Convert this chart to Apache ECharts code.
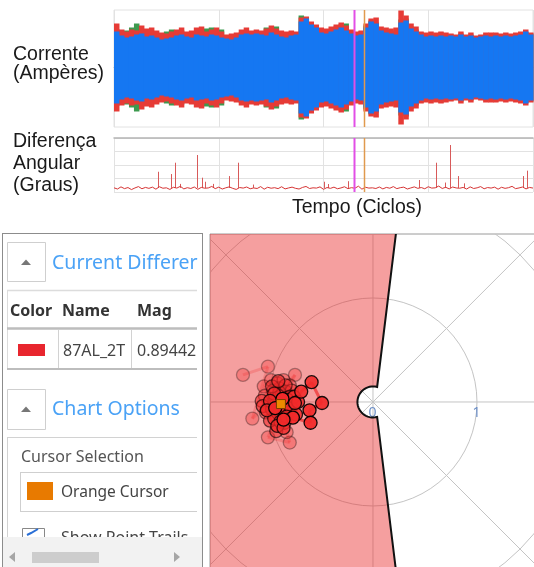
<!DOCTYPE html>
<html><head><meta charset="utf-8">
<script src="https://cdn.jsdelivr.net/npm/echarts@6.0.0/dist/echarts.min.js"></script>
<style>html,body{margin:0;padding:0;background:#fff}#c{width:534px;height:567px}</style>
</head><body><div id="c"></div>
<script>
// ---------- DATA ----------
// Current waveform envelope (amplitude per time column), one array per phase
const blueAmp = [36,32,30,31,33,34,31,32,30,28, 29,30,32,33,31,30,33,32,31,33, 32,30,29,28,30,33,34,33,34,33, 32,35,33,31,30,32,33,46,49,43, 40,35,34,36,38,40,37,34,32,33, 40,46,44,37,35,34,33,45,47,39, 36,33,31,32,31,32,31,32,31,33, 31,32,30,31,32,31,32,31,32,31, 32,33,36,33];
const redAmp = [44,38,36,38,37,42,39,40,37,35, 34,36,38,40,36,37,40,41,36,38, 40,36,33,34,35,38,40,37,38,37, 39,42,39,37,36,37,36,50,51,46, 43,40,39,41,43,45,42,38,36,37, 44,49,50,41,40,39,40,57,52,44, 41,36,35,36,35,36,35,34,33,36, 33,35,32,33,35,35,35,34,35,34, 35,36,38,35];
const greenAmp = [38,35,37,40,44,38,36,35,34,33, 36,38,34,37,34,33,36,37,39,40, 37,38,32,31,32,35,36,35,36,35, 40,38,41,35,34,34,35,52,47,45, 41,38,37,38,41,43,44,36,35,36, 42,47,45,39,38,36,37,48,49,41, 38,35,33,34,33,35,33,33,32,34, 32,33,31,32,33,33,34,30,33,32, 33,34,35,34];
// Time cursors (cycles)
const cursorPos = [2.29, 2.385];
const cursorNames = ['Magenta Cursor', 'Orange Cursor'];
// Angular difference: baseline noise + spikes
const angleNoise = [3.1,2.2,3.8,2.5,3.3,1.8,3.0,4.0,2.4,3.4, 2.7,3.6,2.1,3.9,2.8,3.1,1.9,3.5,2.9,4.2, 2.3,3.2,2.6,3.7,2.0,3.4,2.8,3.0,4.1,2.5, 3.6,2.2,3.1,3.8,2.7,1.9,3.3,2.9,3.7,2.4, 3.0,2.6,4.0,2.1,3.5,2.8,3.2,2.5,3.9,2.3, 3.0,3.6,2.7,2.2,3.4,4.1,2.6,3.1,2.9,3.8, 2.0,3.3,2.7,3.6,2.4,3.0,3.9,2.5,3.2,2.8, 4.3,2.1,3.5,2.9,3.1,2.6,3.7,2.3,3.4,2.8, 4.0,2.5,3.2,3.6,2.2,3.0,3.8,2.7,3.3,2.4, 3.9,2.9,3.1,4.4,2.6,3.5,2.3,3.7,3.0,2.8, 3.4,2.2,3.8,2.6,3.1,4.0,2.4,3.3,2.9,3.6, 2.1,3.5,2.7,3.2,4.2,2.5,3.0,3.7,2.3,3.4, 2.9];
const spikeX = [0.423,0.541,0.582,0.630,0.795,0.840,0.869,0.945,1.095,1.187,1.327,2.002,2.043,2.234,2.915,3.071,3.160,3.208,3.281,3.341,3.907,3.946];
const spikeVal = [15.0,13.3,21.7,6.0,27.4,10.6,7.6,6.0,11.8,21.7,5.5,7.6,5.9,8.0,8.9,21.7,7.0,34.8,11.8,6.4,11.8,15.8];
const spikeBase = 3;
// Phasor plane
const ringRadii = [1, 2, 3];
const spokeAngles = [0, 45, 90, 135];
const ringLabels = [0, 1];
const charSlopeTop = [[0.04, 0.144], [0.243, 1.80]];
const trailX = [-1.25,-1.01,-1.16,-0.75,-1.01,-0.80,-0.83,-1.05,-0.98,-0.92,-0.86,-1.04,-0.80,-0.96,-0.90,-1.00,-0.84,-0.94,-1.03,-0.88,-0.78,
  -0.93,-0.87,-0.81,-0.90,-0.97,-0.84,-1.07,-0.93,-0.88,-0.80,-0.99,-0.91,-0.85,-1.06,-0.95,
  -0.97,-0.91,-0.95,-0.82,-0.89,-0.85,-0.92,-0.86,-0.79,-0.83,-0.76,-0.99,-1.02,-0.74,-0.72,-0.75,-0.69,-0.59,-0.49,-0.61,-0.60,-0.77,-0.86,-0.94,-0.87];
const trailY = [0.26,0.34,-0.16,0.26,-0.34,-0.39,-0.29,0.15,0.21,0.18,0.21,0.06,0.16,0.11,0.13,-0.03,0.10,0.04,-0.10,0.06,0.11,
  -0.02,-0.04,-0.10,0.09,0.15,0.16,0.01,-0.28,-0.12,0.05,-0.18,0.20,-0.20,-0.04,0.08,
  -0.07,-0.11,-0.16,0.02,-0.19,-0.08,-0.23,-0.25,-0.05,-0.14,0.05,0.01,-0.08,-0.12,0.00,-0.01,0.10,0.19,-0.01,-0.08,-0.20,-0.15,-0.17,-0.06,0.03];
const cursorPoint = [-0.885, -0.02];
// Side panel content
const tableHeaders = ['Color', 'Name', 'Mag'];
const tableRow = {name: '87AL_2T', mag: '0.89442'};

// ---------- CHART ----------
const chart = echarts.init(document.getElementById('c'));
const cursorColors = ['#e24fe6', '#e09a4e'];
const cursorWidths = [2, 1.5];
const colW = 4 / blueAmp.length;

function bandSeries(amps, color) {
  return {
    type: 'custom', xAxisIndex: 0, yAxisIndex: 0, silent: true, animation: false, z: 2,
    data: amps.map((a, i) => [(i + 0.5) * colW, a]),
    renderItem: (params, api) => {
      const x = api.value(0), a = api.value(1);
      const p1 = api.coord([x - colW / 2, a]);
      const p2 = api.coord([x + colW / 2, -a]);
      return {type: 'rect', shape: {x: p1[0], y: p1[1], width: p2[0] - p1[0] + 0.5, height: p2[1] - p1[1]}, style: {fill: color}};
    }
  };
}
function cursorSeries(k) {
  return {
    type: 'custom', xAxisIndex: k, yAxisIndex: k, silent: true, animation: false, z: 6,
    data: cursorPos.map((p, i) => [p, i]),
    renderItem: (params, api) => {
      const cs = params.coordSys;
      const i = api.value(1);
      const x = Math.round(api.coord([api.value(0), 0])[0]) + 0.5;
      return {type: 'line', shape: {x1: x, y1: cs.y, x2: x, y2: cs.y + cs.height}, style: {stroke: cursorColors[i], lineWidth: cursorWidths[i]}};
    }
  };
}
const nT = trailX.length;
const op = i => 0.3 + 0.7 * Math.pow(i / (nT - 1), 1.3);

function charPolygonPoints() {
  const [a, b] = charSlopeTop;
  const r = Math.hypot(a[0], a[1]);
  const a0 = Math.atan2(a[1], a[0]);
  const pts = [[b[0], b[1]], [a[0], a[1]]];
  const steps = 30;
  for (let s = 1; s < steps; s++) {
    const t = a0 + (2 * Math.PI - 2 * a0) * s / steps;
    pts.push([r * Math.cos(t), r * Math.sin(t)]);
  }
  pts.push([a[0], -a[1]], [b[0], -b[1]]);
  return pts;
}

const G = [];
const txt = (x, y, text, font, fill, align, z) => G.push({type: 'text', x, y, z: z || 50, silent: true,
  style: {text, font, fill, align: align || 'left', verticalAlign: 'middle', textAlign: align || 'left', textVerticalAlign: 'middle'}});
const rect = (x, y, w, h, style, z) => G.push({type: 'rect', shape: {x, y, width: w, height: h}, style, z: z || 40, silent: true});
const line = (x1, y1, x2, y2, stroke, lw, z) => G.push({type: 'line', shape: {x1, y1, x2, y2}, style: {stroke, lineWidth: lw || 1}, z: z || 41, silent: true});

const LF = '19.5px "Liberation Sans", Arial, sans-serif';
txt(13, 54.5, 'Corrente', LF, '#1a1a1a');
txt(13, 73.5, '(Ampères)', LF, '#1a1a1a');
txt(13, 141.5, 'Diferença', LF, '#1a1a1a');
txt(13, 163.5, 'Angular', LF, '#1a1a1a');
txt(13, 185.5, '(Graus)', LF, '#1a1a1a');
txt(357, 208, 'Tempo (Ciclos)', LF, '#1a1a1a', 'center');

// side panel
const PF = '"Noto Sans", "Open Sans", sans-serif';
rect(2.5, 233.5, 200, 340, {fill: '#fff', stroke: '#8c8c8c', lineWidth: 1}, 30);
rect(7.5, 242.5, 38, 39, {fill: '#fff', stroke: '#cfcfcf', lineWidth: 1});
G.push({type: 'polygon', shape: {points: [[21, 265], [31, 265], [26, 259.5]]}, style: {fill: '#777'}, z: 42, silent: true});
txt(52, 263, 'Current Differer', '19.5px ' + PF, '#4aa2f6');
line(7, 290.5, 197, 290.5, '#dcdcdc', 1.5);
line(7.5, 290, 7.5, 370, '#dcdcdc', 1);
txt(10, 311, tableHeaders[0], 'bold 16px ' + PF, '#333');
txt(62, 311, tableHeaders[1], 'bold 16px ' + PF, '#333');
txt(137, 311, tableHeaders[2], 'bold 16px ' + PF, '#333');
line(7, 328.5, 197, 328.5, '#bdbdbd', 2.5);
line(58.5, 330, 58.5, 368, '#d2d2d2', 1);
line(131.5, 330, 131.5, 368, '#d2d2d2', 1);
line(7, 369, 197, 369, '#bdbdbd', 2);
rect(18, 344, 27, 12, {fill: '#e8262e'});
txt(63, 351, tableRow.name, '16px ' + PF, '#444');
txt(137, 351, tableRow.mag, '16px ' + PF, '#444');
rect(7.5, 389.5, 38, 40, {fill: '#fff', stroke: '#cfcfcf', lineWidth: 1});
G.push({type: 'polygon', shape: {points: [[21, 412], [31, 412], [26, 406.5]]}, style: {fill: '#777'}, z: 42, silent: true});
txt(52, 409, 'Chart Options', '19.5px ' + PF, '#4aa2f6');
line(7, 437.5, 197, 437.5, '#d2d2d2', 1);
line(7.5, 437, 7.5, 567, '#d2d2d2', 1);
txt(21, 457, 'Cursor Selection', '16px ' + PF, '#555');
line(20, 472.5, 197, 472.5, '#cfcfcf', 1);
line(20.5, 472, 20.5, 512, '#cfcfcf', 1);
line(20, 511.5, 197, 511.5, '#cfcfcf', 1);
rect(27, 482, 26, 18, {fill: '#e87a00'});
txt(61, 492.5, cursorNames[1], '15.5px ' + PF, '#444');
rect(22.5, 528.5, 22, 22, {fill: '#fff', stroke: '#888', lineWidth: 1});
G.push({type: 'polyline', shape: {points: [[27, 535], [31, 533], [38, 529]]}, style: {stroke: '#2a6fd6', lineWidth: 2, fill: 'none'}, z: 42, silent: true});
txt(61, 538.5, 'Show Point Trails', '16px ' + PF, '#444', 'left', 42);
rect(3, 537, 199, 30, {fill: '#f2f2f2'}, 45);
G.push({type: 'polygon', shape: {points: [[9, 557], [15, 552], [15, 562]]}, style: {fill: '#a6a6a6'}, z: 46, silent: true});
G.push({type: 'polygon', shape: {points: [[180, 557], [174, 552], [174, 562]]}, style: {fill: '#a6a6a6'}, z: 46, silent: true});
rect(32, 552, 67, 11, {fill: '#cdcdcd'}, 46);
line(2.5, 233, 2.5, 567, '#8c8c8c', 1, 47);
line(202.5, 233, 202.5, 567, '#8c8c8c', 1, 47);

const option = {
  animation: false,
  backgroundColor: '#fff',
  graphic: {elements: G},
  grid: [
    {left: 114, top: 10, width: 419, height: 117, show: true, borderColor: '#e2e2e2', borderWidth: 1, outerBoundsMode: 'none'},
    {left: 114, top: 138, width: 419, height: 54, outerBoundsMode: 'none'},
    {left: 210, top: 234, width: 330, height: 340, show: true, borderColor: '#9a9a9a', borderWidth: 1, backgroundColor: '#fff', outerBoundsMode: 'none'}
  ],
  xAxis: [
    {gridIndex: 0, type: 'value', min: 0, max: 4, interval: 1, axisLine: {show: true, lineStyle: {color: '#b4b4b4'}}, axisTick: {show: false}, axisLabel: {show: false}, splitLine: {show: true, lineStyle: {color: '#e2e2e2'}}},
    {gridIndex: 1, type: 'value', min: 0, max: 4, interval: 1, position: 'top', axisLine: {show: true, onZero: false, lineStyle: {color: '#b4b4b4', width: 1.5}}, axisTick: {show: false}, axisLabel: {show: false}, splitLine: {show: true, lineStyle: {color: '#e2e2e2'}}},
    {gridIndex: 2, type: 'value', min: -1.567, max: 1.606, show: false, splitLine: {show: false}}
  ],
  yAxis: [
    {gridIndex: 0, type: 'value', min: -59.5, max: 57.5, axisLine: {show: false}, axisTick: {show: false}, axisLabel: {show: false}, splitLine: {show: false}},
    {gridIndex: 1, type: 'value', min: 0, max: 40, interval: 10, axisLine: {show: false}, axisTick: {show: false}, axisLabel: {show: false}, splitLine: {show: true, lineStyle: {color: '#e2e2e2'}}},
    {gridIndex: 2, type: 'value', min: -1.654, max: 1.615, show: false, splitLine: {show: false}}
  ],
  series: [
    bandSeries(greenAmp, '#3d9a4f'),
    bandSeries(redAmp, '#e63b36'),
    bandSeries(blueAmp, '#1577f2'),
    cursorSeries(0),
    {type: 'line', xAxisIndex: 1, yAxisIndex: 1, silent: true, z: 3, symbol: 'none',
      data: angleNoise.map((v, i) => [i * 4 / (angleNoise.length - 1), v]),
      lineStyle: {color: '#d63434', width: 1}},
    {type: 'custom', xAxisIndex: 1, yAxisIndex: 1, silent: true, z: 3,
      data: spikeX.map((x, i) => [x, spikeVal[i]]),
      renderItem: (params, api) => {
        const p1 = api.coord([api.value(0), spikeBase]);
        const p2 = api.coord([api.value(0), api.value(1)]);
        const x = Math.round(p1[0]) + 0.5;
        return {type: 'line', shape: {x1: x, y1: p1[1], x2: x, y2: p2[1]}, style: {stroke: '#d85a5a', lineWidth: 1}};
      }},
    cursorSeries(1),
    // phasor grid
    {type: 'custom', xAxisIndex: 2, yAxisIndex: 2, silent: true, clip: true, z: 2,
      data: [[0, 0]],
      renderItem: (params, api) => {
        const o = api.coord([0, 0]);
        const ch = [];
        ringRadii.forEach(r => {
          ch.push({type: 'circle', shape: {cx: o[0], cy: o[1], r: api.size([r, 0])[0]}, style: {fill: null, stroke: '#c4c4c4', lineWidth: 1}});
        });
        spokeAngles.forEach(a => {
          const t = a * Math.PI / 180, L = 3;
          const p1 = api.coord([L * Math.cos(t), L * Math.sin(t)]);
          const p2 = api.coord([-L * Math.cos(t), -L * Math.sin(t)]);
          ch.push({type: 'line', shape: {x1: p1[0], y1: p1[1], x2: p2[0], y2: p2[1]}, style: {stroke: '#c4c4c4', lineWidth: 1}});
        });
        return {type: 'group', children: ch};
      }},
    // ring labels
    {type: 'custom', xAxisIndex: 2, yAxisIndex: 2, silent: true, z: 3,
      data: ringLabels.map(v => [v, 0]),
      renderItem: (params, api) => {
        const p = api.coord([api.value(0), 0]);
        return {type: 'text', x: p[0] - 0.5, y: p[1] + 11, style: {text: String(api.value(0)), font: '14px "Noto Sans", sans-serif', fill: '#6d8fc6', align: 'center', verticalAlign: 'middle', textAlign: 'center', textVerticalAlign: 'middle'}};
      }},
    // operating characteristic (restraint region)
    {type: 'custom', xAxisIndex: 2, yAxisIndex: 2, silent: true, clip: true, z: 4,
      data: [[0, 0]],
      renderItem: (params, api) => {
        const bpts = charPolygonPoints();
        const full = bpts.concat([[-2, -1.8], [-2, 1.8]]);
        return {type: 'group', children: [
          {type: 'polygon', shape: {points: full.map(p => api.coord(p))}, style: {fill: 'rgba(233,42,42,0.45)'}},
          {type: 'polyline', shape: {points: bpts.map(p => api.coord(p))}, style: {stroke: '#111', lineWidth: 2, fill: null}}
        ]};
      }},
    // trail segments
    {type: 'custom', xAxisIndex: 2, yAxisIndex: 2, silent: true, clip: true, z: 5,
      data: trailX.map((x, i) => [x, trailY[i], i]),
      renderItem: (params, api) => {
        const i = api.value(2);
        const cur = api.coord([trailX[i], trailY[i]]);
        const nxt = i < nT - 1 ? api.coord([trailX[i + 1], trailY[i + 1]]) : api.coord(cursorPoint);
        return {type: 'line', shape: {x1: cur[0], y1: cur[1], x2: nxt[0], y2: nxt[1]}, style: {stroke: '#ee3030', lineWidth: 3, opacity: op(i) * 0.8}};
      }},
    {type: 'scatter', xAxisIndex: 2, yAxisIndex: 2, silent: true, z: 6, symbolSize: 13,
      data: trailX.map((x, i) => ({value: [x, trailY[i]], itemStyle: {opacity: op(i)}})),
      itemStyle: {color: '#f22a2a', borderColor: '#000', borderWidth: 1.3}},
    {type: 'scatter', xAxisIndex: 2, yAxisIndex: 2, silent: true, z: 7, symbol: 'rect', symbolSize: 9,
      data: [cursorPoint],
      itemStyle: {color: '#ec8a00', borderColor: '#7a3c00', borderWidth: 1, opacity: 1}}
  ]
};
chart.setOption(option);
</script>
</body></html>
